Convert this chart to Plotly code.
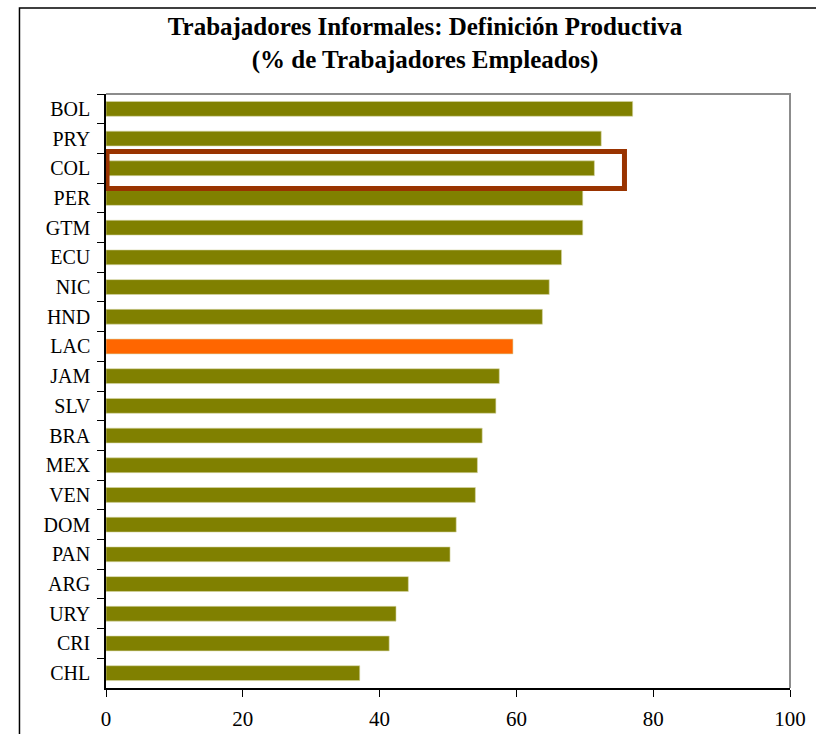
import plotly.graph_objects as go

# datos (orden de arriba hacia abajo)
paises = ["BOL", "PRY", "COL", "PER", "GTM", "ECU", "NIC", "HND", "LAC", "JAM",
          "SLV", "BRA", "MEX", "VEN", "DOM", "PAN", "ARG", "URY", "CRI", "CHL"]
valores = [77.0, 72.4, 71.4, 69.7, 69.7, 66.6, 64.8, 63.8, 59.5, 57.5,
           57.0, 55.0, 54.3, 54.0, 51.2, 50.3, 44.2, 42.4, 41.4, 37.1]
x_ticks = [0, 20, 40, 60, 80, 100]

OLIVA = "#808000"
NARANJA = "#FF6600"
SERIF = "Liberation Serif, Times New Roman, serif"

colores = [NARANJA if p == "LAC" else OLIVA for p in paises]

fig = go.Figure()
fig.add_trace(go.Bar(
    x=valores,
    y=paises,
    orientation="h",
    width=0.5,
    marker=dict(color=colores, line=dict(color="#d6d6a8", width=0.6)),
    showlegend=False,
))

# recuadro rojo alrededor de COL
i_col = paises.index("COL")
fig.add_shape(type="rect", xref="x", yref="y",
              x0=0.15, x1=75.8, y0=i_col - 0.56, y1=i_col + 0.68,
              line=dict(color="#993300", width=5), fillcolor="rgba(0,0,0,0)",
              layer="above")

# borde gris superior y derecho del area de grafico
fig.add_shape(type="path", xref="paper", yref="paper",
              path="M 0,1 L 1,1 L 1,0",
              line=dict(color="#8c8c8c", width=2), layer="below")

# marco exterior
fig.add_shape(type="path", xref="paper", yref="paper",
              path="M -0.1265,-0.1 L -0.1265,1.1448 L 1.1,1.1448",
              line=dict(color="black", width=1.5))

fig.update_layout(
    width=816,
    height=734,
    margin=dict(l=106, r=26, t=94, b=46),
    plot_bgcolor="white",
    paper_bgcolor="white",
    bargap=0.5,
    title=dict(
        text="Trabajadores Informales: Definición Productiva<br>(% de Trabajadores Empleados)",
        x=425 / 816, xanchor="center",
        y=1 - 35 / 734, yanchor="middle",
        font=dict(family=SERIF, size=25, color="black", weight="bold"),
    ),
    font=dict(family=SERIF, size=20, color="black"),
)

fig.update_xaxes(
    range=[0, 100],
    tickvals=x_ticks,
    ticks="outside", ticklen=7, tickcolor="black", tickwidth=1,
    showline=True, linecolor="black", linewidth=1.5,
    showgrid=False, zeroline=False,
    ticklabelstandoff=4,
    automargin=False,
    tickfont=dict(family=SERIF, size=21, color="black"),
)
fig.update_yaxes(
    categoryorder="array", categoryarray=paises,
    autorange="reversed",
    ticks="outside", tickson="boundaries", ticklen=7, tickcolor="black", tickwidth=1,
    showline=True, linecolor="black", linewidth=1.5,
    showgrid=False, zeroline=False,
    ticklabelstandoff=10,
    automargin=False,
    tickfont=dict(family=SERIF, size=20, color="black"),
)

fig.write_html("out.html", config={"displayModeBar": False},
               post_script="document.body.style.margin='0px';")
